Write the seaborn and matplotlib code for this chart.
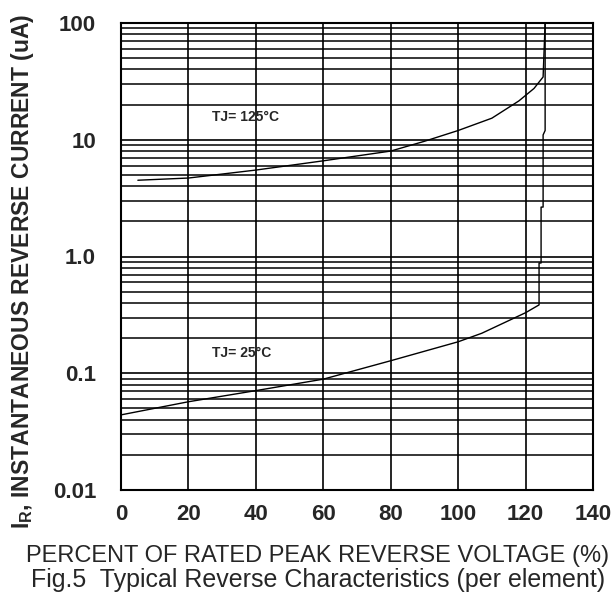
import numpy as np
import pandas as pd
import matplotlib
matplotlib.use('Agg')
import matplotlib.pyplot as plt
from matplotlib.ticker import FixedLocator, FixedFormatter, LogLocator, NullFormatter
import seaborn as sns

# data (percent of rated voltage vs reverse current, uA)
pct_125 = [5, 20, 40, 60, 80, 90, 100, 110, 118, 122.5, 125.2, 125.8]
cur_125 = [4.5, 4.7, 5.5, 6.6, 8.0, 9.7, 12.0, 15.3, 21.5, 27.5, 34.5, 100]

pct_25 = [0, 20, 40, 60, 80, 100, 107, 120, 124.0, 124.0, 124.6, 124.6, 125.2, 125.2, 125.8, 125.8]
cur_25 = [0.044, 0.057, 0.071, 0.089, 0.128, 0.186, 0.22, 0.33, 0.385, 0.88, 0.88, 2.65, 2.65, 11.0, 12.0, 100]

x_ticks = [0, 20, 40, 60, 80, 100, 120, 140]
y_ticks = [0.01, 0.1, 1, 10, 100]
y_labels = ['0.01', '0.1', '1.0', '10', '100']

df = pd.concat([
    pd.DataFrame({'pct': pct_125, 'cur': cur_125, 'curve': '125'}),
    pd.DataFrame({'pct': pct_25, 'cur': cur_25, 'curve': '25'}),
])

sns.set_style('white')
plt.rcParams['font.family'] = ['Liberation Sans', 'DejaVu Sans']
plt.rcParams['mathtext.fontset'] = 'custom'
plt.rcParams['mathtext.rm'] = 'Liberation Sans'
plt.rcParams['mathtext.bf'] = 'Liberation Sans:bold'

fig = plt.figure(figsize=(6.16, 5.99), dpi=100)
ax = fig.add_axes([121 / 616, 109 / 599, 472 / 616, 467 / 599])

for name, grp in df.groupby('curve'):
    sns.lineplot(data=grp, x='pct', y='cur', ax=ax, color='black', lw=1.0,
                 sort=False, estimator=None, legend=False)

ax.set_yscale('log')
ax.set_xlim(0, 140)
ax.set_ylim(0.01, 100)

ax.xaxis.set_major_locator(FixedLocator(x_ticks))
ax.yaxis.set_major_locator(FixedLocator(y_ticks))
ax.yaxis.set_major_formatter(FixedFormatter(y_labels))
ax.yaxis.set_minor_locator(LogLocator(base=10, subs=np.arange(2, 10)))
ax.yaxis.set_minor_formatter(NullFormatter())

ax.grid(True, which='major', axis='both', color='black', lw=1.2)
ax.grid(True, which='minor', axis='y', color='black', lw=1.1)
ax.tick_params(axis='both', which='both', length=0)
ax.tick_params(axis='x', pad=10)
ax.tick_params(axis='y', pad=18)

for lab in ax.get_xticklabels() + ax.get_yticklabels():
    lab.set_fontsize(16)
    lab.set_fontweight('bold')

for sp in ax.spines.values():
    sp.set_color('black')
    sp.set_linewidth(1.5)

ax.text(27, 15.7, 'TJ= 125°C', fontsize=10, fontweight='bold', va='center', ha='left')
ax.text(27, 0.149, 'TJ= 25°C', fontsize=10, fontweight='bold', va='center', ha='left')

ax.set_xlabel('')
ax.set_ylabel(r'I$_{\mathbf{R}}$, INSTANTANEOUS REVERSE CURRENT (uA)', fontsize=16.5,
              fontweight='bold')
ax.yaxis.set_label_coords(-0.18, 0.469)

fig.text(0.516, 0.071, 'PERCENT OF RATED PEAK REVERSE VOLTAGE (%)', fontsize=17,
         ha='center', va='center')
fig.text(0.516, 0.031, 'Fig.5  Typical Reverse Characteristics (per element)', fontsize=18,
         ha='center', va='center')

fig.savefig('out.png', dpi=100, facecolor='white')
